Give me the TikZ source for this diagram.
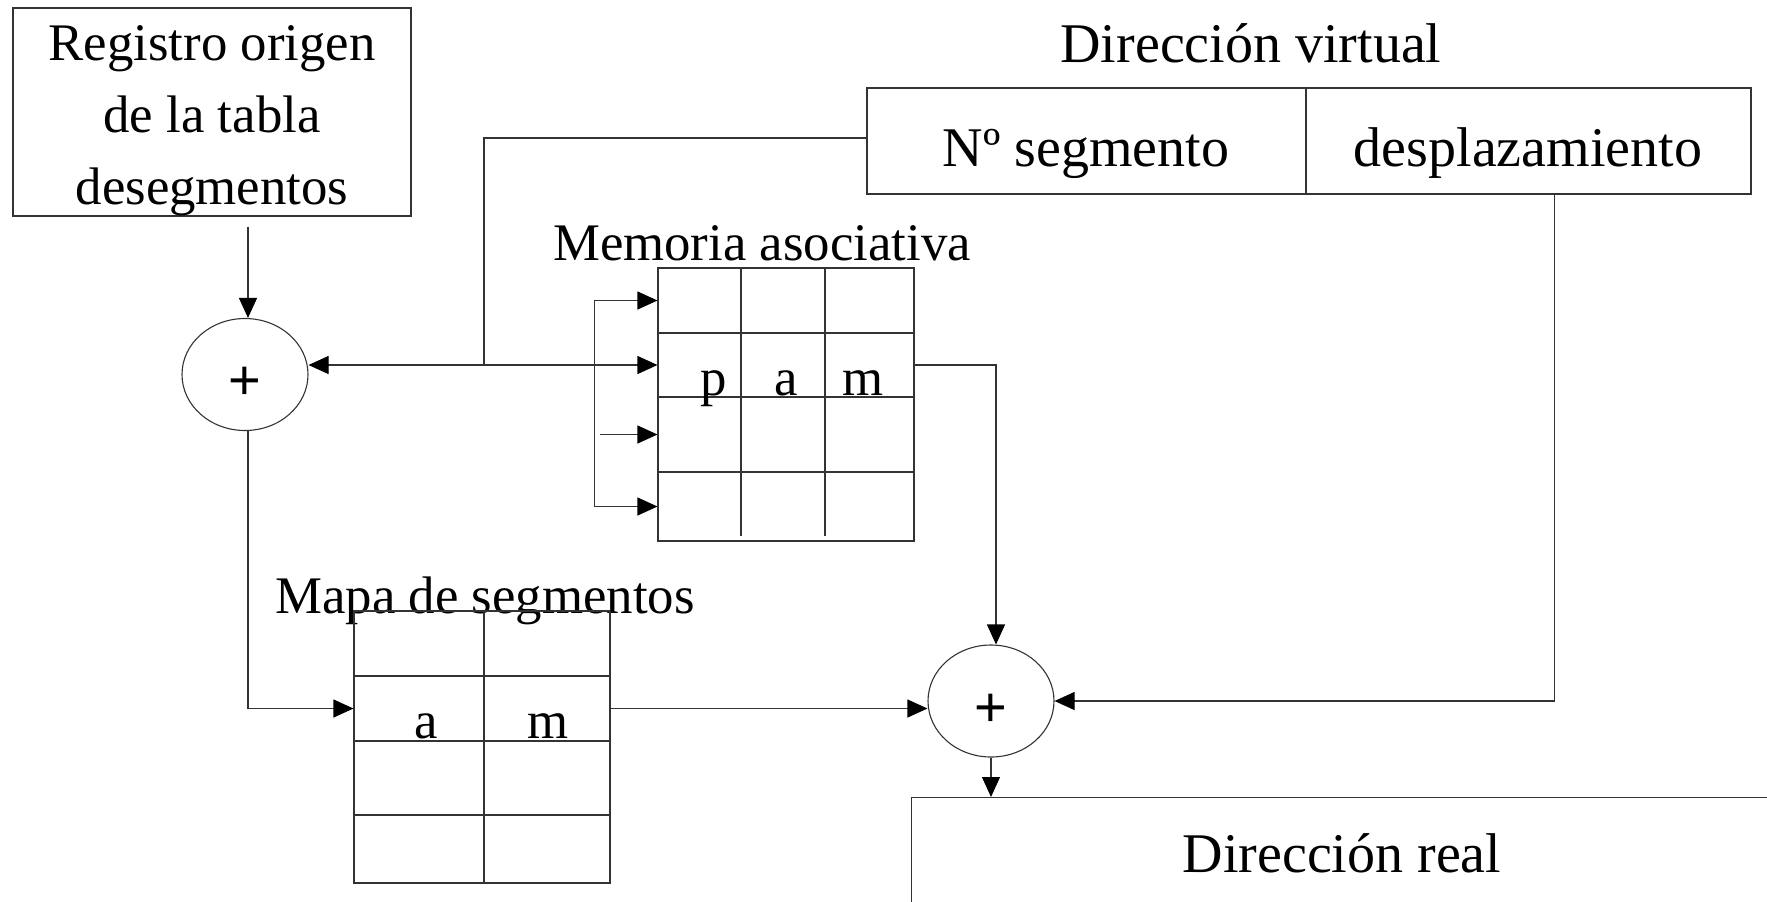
\documentclass[tikz,border=0pt]{standalone}
\usepackage{fontspec}
\setmainfont{Liberation Serif}
\setsansfont{Liberation Sans}
\usetikzlibrary{arrows.meta,shapes.geometric,calc}

\begin{document}
\begin{tikzpicture}[x=0.5pt,y=-0.5pt,
  linea/.style={draw=black!80, line width=0.55pt},
  flecha/.style={linea, -{Triangle[length=10pt,width=9pt,color=black]}},
  flechaDoble/.style={linea, {Triangle[length=10pt,width=9pt,color=black]}-{Triangle[length=10pt,width=9pt,color=black]}},
  texto/.style={font=\fontsize{26.4pt}{36pt}\selectfont, inner sep=0pt},
  textoG/.style={font=\fontsize{28pt}{34pt}\selectfont, inner sep=0pt},
  fila/.style={linea, rectangle, minimum width=128pt, inner sep=0pt},
  sumador/.style={linea, ellipse, inner sep=0pt, minimum width=63pt, minimum height=56pt,
    font=\sffamily\fontsize{28pt}{30pt}\selectfont}]

\clip (0,0) rectangle (1767,901);

% Registro origen
\node[linea, rectangle, minimum width=199pt, minimum height=104pt] (registro) at (212,112) {};
\node[texto, align=center] (registroTxt) at (212,121) {Registro origen\\de la tabla\\desegmentos};

% Direccion virtual
\node[textoG, anchor=base] (virtualTxt) at (1251,62) {Dirección virtual};
\node[linea, rectangle, minimum width=219.5pt, minimum height=53pt] (seg) at (1086.5,141) {};
\node[linea, rectangle, minimum width=222.5pt, minimum height=53pt] (desp) at (1528.5,141) {};
\node[textoG, anchor=base] (segTxt) at (1086,166) {Nº segmento};
\node[textoG, anchor=base] (despTxt) at (1528,166) {desplazamiento};

% Sumadores
\node[sumador] (sum1) at (245,374.5) {\raisebox{-4.5pt}[\height][\depth]{+}};
\node[sumador] (sum2) at (991,701) {\raisebox{-4.5pt}[\height][\depth]{+}};

% Memoria asociativa
\node[texto, anchor=base] (memTxt) at (762,260) {Memoria asociativa};
\foreach \n/\y/\h in {1/300.5/32.5pt, 2/365/32pt, 3/434.5/37.5pt, 4/506.5/34.5pt}
  \node[fila, minimum height=\h] (mem\n) at (786,\y) {};
\foreach \x in {741,825}
  \draw[linea] (\x,268) -- (\x,536);
\node[texto, anchor=base] (memP) at (714,395) {p};
\node[texto, anchor=base] (memA) at (786,395) {a};
\node[texto, anchor=base] (memM) at (863,395) {m};

% Mapa de segmentos
\node[texto, anchor=base] (mapaTxt) at (485,613) {Mapa de segmentos};
\foreach \n/\y/\h in {1/643.5/32.5pt, 2/708.5/32.5pt, 3/778/37pt, 4/849/34pt}
  \node[fila, minimum height=\h] (map\n) at (482,\y) {};
\draw[linea] (484,611) -- (484,883);
\node[texto, anchor=base] (mapA) at (426,738) {a};
\node[texto, anchor=base] (mapM) at (548,738) {m};

% Direccion real
\node[linea, rectangle, minimum width=500pt, minimum height=150pt, anchor=north west] (real) at (911,797) {};
\node[textoG, anchor=base] (realTxt) at (1342,872) {Dirección real};

% Conexiones
\draw[flecha] ($(registro.south -| sum1.north)+(3,10)$) -- ([xshift=1.5pt]sum1.north);
\draw[flechaDoble] (sum1.east |- mem2.west) -- (mem2.west);

\coordinate (ramaA) at ($(mem1.west)+(-63,0)$);
\coordinate (ramaB) at ($(mem4.west)+(-63,0)$);
\draw[flecha] (ramaB) |- (mem1.west);
\draw[flecha] (ramaA) |- (mem4.west);
\draw[flecha] ($(mem3.west)+(-57,0)$) -- (mem3.west);

\coordinate (cruce) at (484,365);
\draw[linea] ([yshift=1.5pt]seg.west) -| (cruce);

\draw[flecha] (mem2.east) -| ([xshift=2.5pt]sum2.north);
\draw[flecha] ([xshift=13pt]desp.south) |- (sum2.east);
\draw[flecha] ([xshift=1.5pt]sum1.south) |- (map2.west);
\draw[flecha] (map2.east) -- (map2.east -| sum2.west);
\draw[flecha] (sum2.south) -- (sum2.south |- real.north);

\end{tikzpicture}
\end{document}
